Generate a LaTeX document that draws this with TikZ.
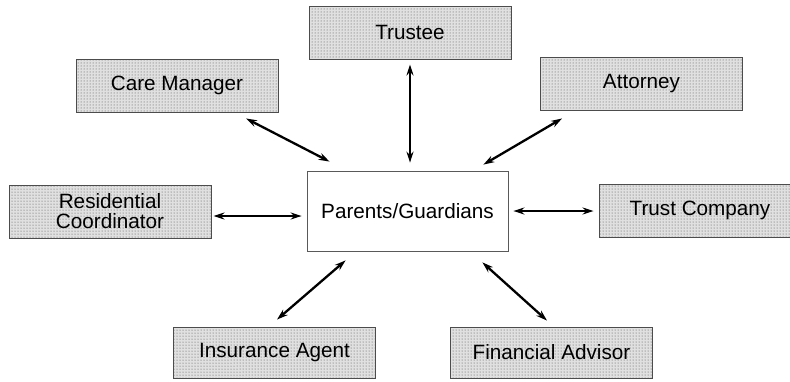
\documentclass[tikz,border=0pt]{standalone}
\usepackage{fontspec}
\setmainfont{Liberation Sans}
\usetikzlibrary{arrows.meta,patterns}
\begin{document}
\begin{tikzpicture}[x=1pt,y=-1pt,
  party/.style={draw=black!70,line width=0.9pt,rectangle,
    minimum width=202pt,minimum height=53pt,inner sep=0pt,
    preaction={fill=black!12},pattern=dots,pattern color=black!70,
    font=\fontsize{20.7}{20}\selectfont,align=center},
  hub/.style={draw=black!65,line width=0.8pt,rectangle,fill=white,
    minimum width=201pt,minimum height=80pt,inner sep=0pt,
    font=\fontsize{20.7}{24}\selectfont},
  link/.style={line width=2.3pt,{Stealth[length=11pt,width=7pt]}-{Stealth[length=11pt,width=7pt]}}]
\useasboundingbox (0,0) rectangle (790,381);
\node[hub] (pg) at (407.5,211) {Parents/Guardians};
\node[party] (tr) at (410,32.5) {Trustee};
\node[party] (cm) at (177,85.5) {Care Manager};
\node[party] (at) at (641.5,83.5) {Attorney};
\node[party] (rc) at (110,211.5) {Residential\\Coordinator};
\node[party] (tc) at (700,210.5) {Trust Company};
\node[party,minimum height=51pt] (ia) at (274.5,352.5) {Insurance Agent};
\node[party,minimum height=51pt] (fa) at (551.5,352.5) {Financial Advisor};
\draw[link] ([shift={(69,6)}]cm.south) -- ([shift={(23,-9)}]pg.north west);
\draw[link] ([shift={(0,5)}]tr.south) -- ([shift={(2.5,-8)}]pg.north);
\draw[link] ([shift={(22,8)}]at.south west) -- ([shift={(-25,-6)}]pg.north east);
\draw[link] ([shift={(2,4.5)}]rc.east) -- ([shift={(-5,5)}]pg.west);
\draw[link] ([shift={(5,0)}]pg.east) -- ([shift={(-5,0.5)}]tc.west);
\draw[link] ([shift={(2.5,-7)}]ia.north) -- ([shift={(39,9)}]pg.south west);
\draw[link] ([shift={(-26,11)}]pg.south east) -- ([shift={(-4.5,-6)}]fa.north);
\end{tikzpicture}
\end{document}
